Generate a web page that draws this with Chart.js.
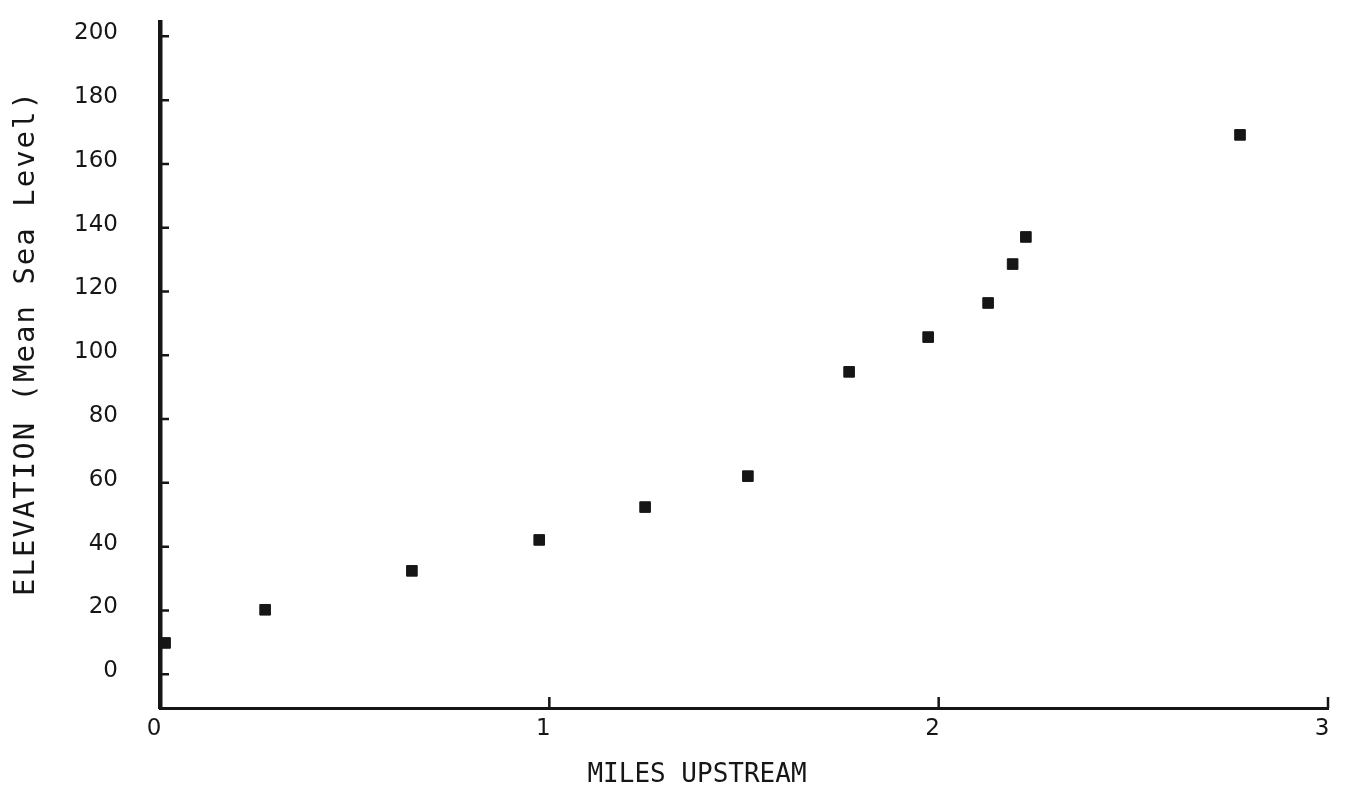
<!DOCTYPE html>
<html>
<head>
<meta charset="utf-8">
<title>Elevation vs Miles Upstream</title>
<script src="https://cdn.jsdelivr.net/npm/chart.js@4/dist/chart.umd.min.js"></script>
<style>
  html, body { margin: 0; padding: 0; background: #fff; }
  #wrap { width: 1347px; height: 803px; position: relative; }
</style>
</head>
<body>
<div id="wrap"><canvas id="profile"></canvas></div>
<script>
// ---- data ----
const milesUpstream = [0.013, 0.27, 0.647, 0.974, 1.246, 1.51, 1.77, 1.973, 2.127, 2.19, 2.224, 2.774];
const elevationMsl  = [9.8, 20.2, 32.4, 42.1, 52.4, 62.1, 94.8, 105.7, 116.4, 128.6, 137.1, 169.1];
const xTickValues = [0, 1, 2, 3];
const yTickValues = [0, 20, 40, 60, 80, 100, 120, 140, 160, 180, 200];
const xTitle = 'MILES UPSTREAM';
const yTitle = 'ELEVATION (Mean Sea Level)';

const inkColor = '#161616';

/*** ---- inward tick marks, like the hand-drawn axes ---- ***/
const inwardTicks = {
    id: 'inwardTicks',
    afterDraw(chart) {
        const {ctx, chartArea, scales} = chart;
        ctx.save();
        ctx.strokeStyle = inkColor;
        ctx.lineWidth = 2.5;
        ctx.beginPath();
        scales.y.ticks.forEach(t => {
            const py = scales.y.getPixelForValue(t.value);
            ctx.moveTo(chartArea.left, py);
            ctx.lineTo(chartArea.left + 9, py);
        });
        scales.x.ticks.forEach(t => {
            if (t.value === 0) return;
            const px = scales.x.getPixelForValue(t.value);
            ctx.moveTo(px, chartArea.bottom);
            ctx.lineTo(px, chartArea.bottom - 11);
        });
        ctx.stroke();
        ctx.restore();
    }
};

/*** ---- axis titles (placed off-centre as in the original) ---- ***/
const axisTitles = {
    id: 'axisTitles',
    afterDraw(chart) {
        const {ctx} = chart;
        ctx.save();
        ctx.fillStyle = inkColor;
        ctx.textAlign = 'center';
        ctx.textBaseline = 'middle';
        ctx.font = '26px "DejaVu Sans Mono"';
        ctx.fillText(xTitle, 697, 775);
        ctx.translate(26, 343);
        ctx.rotate(-Math.PI / 2);
        ctx.font = '29px "DejaVu Sans Mono"';
        if ('letterSpacing' in ctx) ctx.letterSpacing = '2px';
        ctx.fillText(yTitle, 0, 0);
        ctx.restore();
    }
};

function noEdgePadding(scale) {
    scale.paddingTop = 0;
    scale.paddingBottom = 0;
    scale.paddingLeft = 0;
    scale.paddingRight = 0;
}

const ctx = document.getElementById('profile').getContext('2d');
new Chart(ctx, {
    type: 'scatter',
    data: {
        datasets: [{
            label: 'Elevation',
            data: milesUpstream.map((m, i) => ({x: m, y: elevationMsl[i]})),
            pointStyle: 'rect',
            pointRadius: 7.5,
            pointBackgroundColor: inkColor,
            pointBorderColor: inkColor,
            pointBorderWidth: 1,
            clip: false
        }]
    },
    options: {
        responsive: true,
        maintainAspectRatio: false,
        animation: false,
        devicePixelRatio: 1,
        layout: { padding: { top: 22, right: 19, left: 0, bottom: 0 } },
        plugins: {
            legend: { display: false },
            tooltip: { enabled: false }
        },
        scales: {
            x: {
                type: 'linear',
                min: 0,
                max: 3,
                afterBuildTicks: scale => { scale.ticks = xTickValues.map(v => ({value: v})); },
                afterFit: scale => { scale.height = 95; noEdgePadding(scale); },
                grid: { display: false, drawTicks: false },
                border: { display: true, color: inkColor, width: 3 },
                ticks: {
                    autoSkip: false,
                    padding: 7,
                    labelOffset: -6,
                    color: inkColor,
                    font: { family: 'DejaVu Sans', size: 23 }
                }
            },
            y: {
                type: 'linear',
                min: -10.6,
                max: 204.5,
                afterBuildTicks: scale => { scale.ticks = yTickValues.map(v => ({value: v})); },
                afterFit: scale => { scale.width = 160; noEdgePadding(scale); },
                grid: { display: false, drawTicks: false },
                border: { display: true, color: inkColor, width: 4.5 },
                ticks: {
                    autoSkip: false,
                    padding: 42,
                    labelOffset: -3,
                    color: inkColor,
                    font: { family: 'DejaVu Sans', size: 23 }
                }
            }
        }
    },
    plugins: [inwardTicks, axisTitles]
});
</script>
</body>
</html>
